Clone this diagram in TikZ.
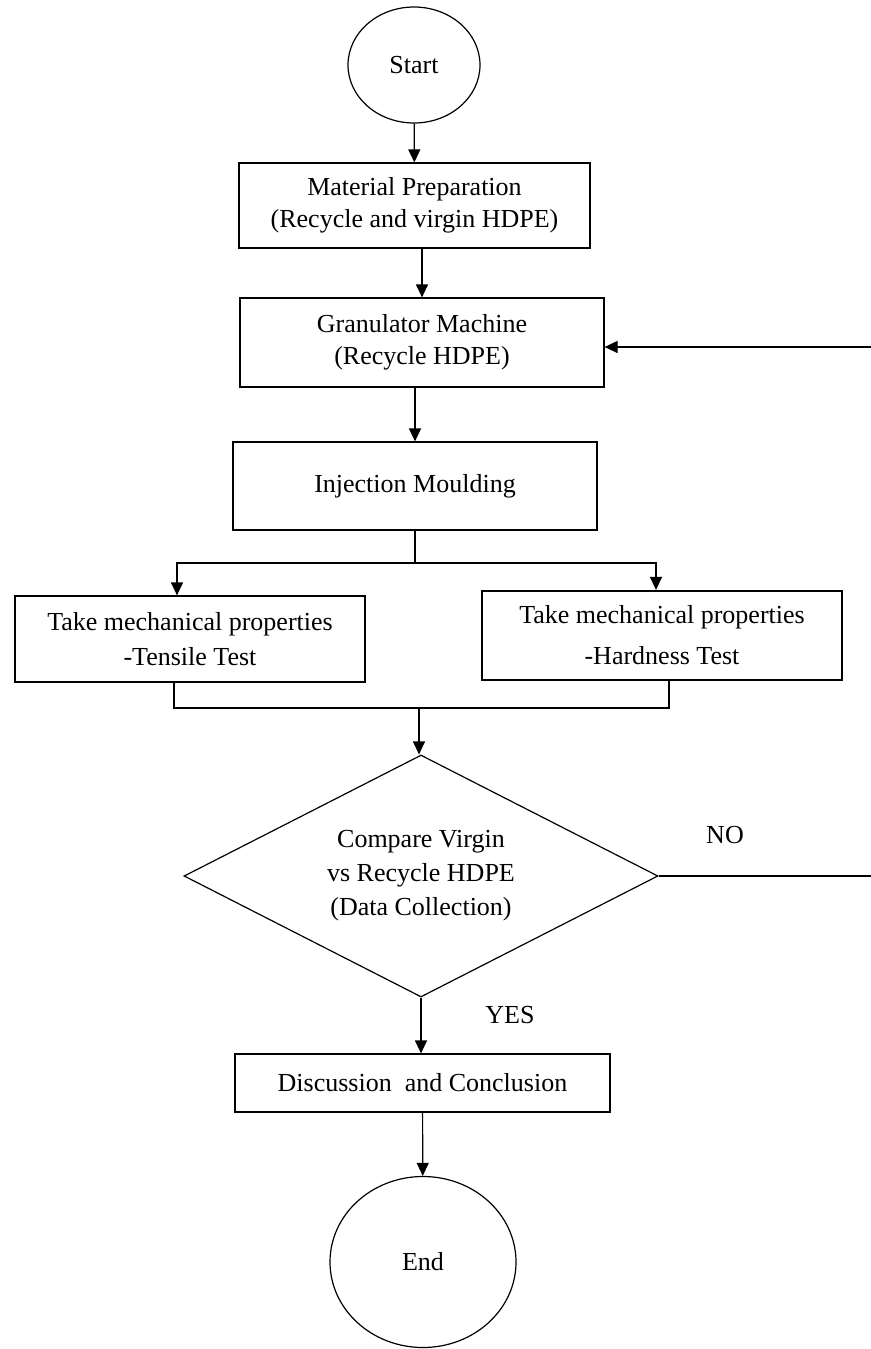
\documentclass[tikz,border=0pt]{standalone}
\usepackage{fontspec}
\setmainfont{Liberation Serif}
\usetikzlibrary{shapes.geometric,arrows.meta}

\begin{document}
\begin{tikzpicture}[x=0.5pt,y=-0.5pt,line width=0.6pt,
        >={Triangle[length=6.5pt,width=6pt]},
        every node/.style={font=\fontsize{13}{16}\selectfont},
        box/.style={draw,rectangle,align=center,inner sep=0pt},
        oval/.style={draw,ellipse,inner sep=0pt}]
        \useasboundingbox (0,0) rectangle (871,1349);
        % steps
        \node[oval,minimum width=66pt,minimum height=58pt] (start) at (414,65) {Start};
        \node[box,minimum width=175.5pt,minimum height=42.5pt] (mat) at (414.5,205.5) {Material Preparation\\(Recycle and virgin HDPE)};
        \node[box,minimum width=182pt,minimum height=44.5pt] (gran) at (422,342.5) {Granulator Machine\\(Recycle HDPE)};
        \node[box,minimum width=182pt,minimum height=44pt] (inj) at (415,486) {Injection Moulding};
        \node[box,minimum width=175pt,minimum height=43pt] (tens) at (190,639) {Take mechanical properties\\[1.5pt]-Tensile Test};
        \node[box,line width=1.1pt,minimum width=180pt,minimum height=44.5pt] (hard) at (662,635.5) {Take mechanical properties\\[4.5pt]-Hardness Test};
        \node[draw,diamond,aspect=2,inner sep=0pt,align=center,minimum width=237pt,minimum height=121pt] (cmp) at (421,876) {Compare Virgin\\[1pt]vs Recycle HDPE\\[1pt](Data Collection)};
        \node[box,minimum width=187.5pt,minimum height=29pt] (disc) at (422.5,1083) {Discussion\enspace and Conclusion};
        \node[oval,minimum width=93pt,minimum height=85.5pt] (end) at (423,1262) {End};
        \node (no) at (725,835) {NO};
        \node (yes) at (510,1015) {YES};
        \coordinate (split) at (415,563);
        \coordinate (join) at (419,708);
        \coordinate (noend) at (871,876);
        \coordinate (back) at (871,347);
        % arrows
        \draw[->] (start) -- (mat);
        \draw[->] (mat.south -| gran) -- (gran.north);
        \draw[->] (gran.south -| inj) -- (inj.north);
        \draw (inj.south) -- (split);
        \draw[->] (split) -| ([xshift=-6.5pt]tens.north);
        \draw[->] (split) -| ([xshift=-3pt]hard.north);
        \draw ([xshift=-8pt]tens.south) |- (join) -| ([xshift=3.5pt]hard.south);
        \draw[->] (join) -- (join |- cmp.north);
        \draw[->] (cmp.south) -- (disc.north -| cmp.south);
        \draw[->] (disc) -- (end);
        \draw (cmp.east) -- (noend);
        \draw[->] (back) -- (back -| gran.east);
    \end{tikzpicture}
\end{document}
